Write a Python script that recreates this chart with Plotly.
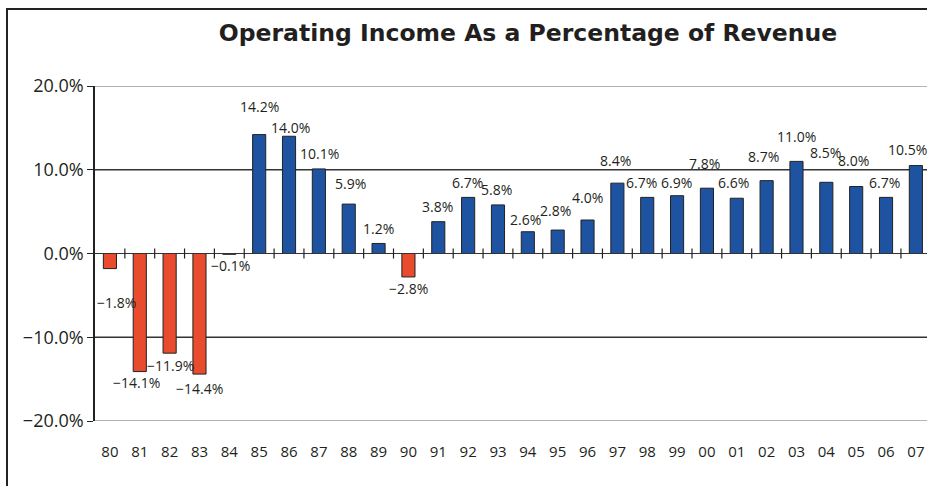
import plotly.graph_objects as go

# Fiscal years (two-digit) and operating margin in percent
years = ["80", "81", "82", "83", "84", "85", "86", "87", "88", "89",
         "90", "91", "92", "93", "94", "95", "96", "97", "98", "99",
         "00", "01", "02", "03", "04", "05", "06", "07"]
margin_pct = [-1.8, -14.1, -11.9, -14.4, -0.1, 14.2, 14.0, 10.1, 5.9, 1.2,
              -2.8, 3.8, 6.7, 5.8, 2.6, 2.8, 4.0, 8.4, 6.7, 6.9,
              7.8, 6.6, 8.7, 11.0, 8.5, 8.0, 6.7, 10.5]
y_ticks = [20, 10, 0, -10, -20]

# Pixel nudges for the value labels (x, y) relative to each bar end
label_nudge = [(7, -34), (-3, -11), (1, -12), (0, -14), (1, -11), (0, 28), (1, 9),
               (1, 15), (2, 21), (0, 15), (0, -12), (-1, 15), (-1, 15), (-1, 15),
               (-2, 12), (-2, 20), (0, 23), (-2, 23), (-6, 15), (-1, 13), (-2, 25),
               (-3, 16), (-3, 24), (0, 25), (-1, 30), (-3, 26), (-2, 15), (-8, 16)]

RED = "#E84B2D"
BLUE = "#1E53A1"
INK = "#231F20"
FONT = "Open Sans"

W, H = 927, 486
# the paper starts at the outer frame's top-left corner (8, 10)
ML, MR, MT, MB = 8, 0, 10, 0
PW, PH = W - ML - MR, H - MT - MB
# chart area inside the frame, in page pixels
AX_L, AX_R, AX_T, AX_B = 95, 927, 86, 421
x_domain = [(AX_L - ML) / PW, (AX_R - ML) / PW]
y_domain = [(H - AX_B) / PH, (H - AX_T) / PH]
CAT_PX = 29.85

def fmt(v):
    s = f"{abs(v):.1f}%"
    return ("\u2212" + s) if v < 0 else s

xs = list(range(len(years)))
colors = [RED if v < 0 else BLUE for v in margin_pct]

fig = go.Figure()
fig.add_trace(go.Bar(
    x=xs, y=margin_pct, width=0.44,
    marker=dict(color=colors, line=dict(color="#222222", width=1)),
    hoverinfo="skip",
))
# empty trace that owns the full-page frame axes
fig.add_trace(go.Scatter(x=[], y=[], xaxis="x2", yaxis="y2", mode="lines",
                         hoverinfo="skip", showlegend=False))

shapes = []
# horizontal rules: outer ones light grey, inner ones dark
for t in y_ticks:
    if t == 0:
        continue
    shapes.append(dict(type="line", xref="x", yref="y", x0=-0.5, x1=len(years) + 1,
                       y0=t, y1=t, layer="below",
                       line=dict(color="#9A9A9A" if abs(t) == 20 else "#333333", width=1.3)))
# zero line with category-boundary ticks
shapes.append(dict(type="line", xref="x", yref="y", x0=-0.5, x1=len(years) + 1,
                   y0=0, y1=0, layer="above", line=dict(color="#333333", width=1.2)))
for k in range(len(years)):
    shapes.append(dict(type="line", xref="x", yref="y", x0=k + 0.5, x1=k + 0.5,
                       y0=-0.6, y1=0.6, layer="above", line=dict(color="#222222", width=1.2)))

annotations = []
for i, v in enumerate(margin_pct):
    dx, dy = label_nudge[i]
    annotations.append(dict(x=xs[i], y=v, xref="x", yref="y", text=fmt(v),
                            showarrow=False, xanchor="center", yanchor="middle",
                            xshift=dx, yshift=dy,
                            font=dict(family=FONT, size=14, color=INK)))

frame_axis = dict(domain=[0, 1], range=[0, 1], showline=True, linecolor="#222222",
                  linewidth=2, showgrid=False, zeroline=False, ticks="",
                  showticklabels=False, fixedrange=True)

fig.update_layout(
    width=W, height=H,
    margin=dict(l=ML, r=MR, t=MT, b=MB, pad=0, autoexpand=False),
    paper_bgcolor="white", plot_bgcolor="rgba(0,0,0,0)",
    showlegend=False,
    title=dict(text="<b>Operating Income As a Percentage of Revenue</b>",
               x=528 / W, xanchor="center", y=1 - 33 / H, yanchor="middle",
               xref="container", yref="container",
               font=dict(family="DejaVu Sans", size=23.5, color=INK)),
    xaxis=dict(domain=x_domain, range=[-0.5, -0.5 + (AX_R - AX_L) / CAT_PX],
               tickvals=xs, ticktext=years, automargin=False,
               showgrid=False, zeroline=False, showline=False,
               ticks="outside", ticklen=17, tickcolor="rgba(0,0,0,0)",
               tickfont=dict(family=FONT, size=15, color=INK), fixedrange=True),
    yaxis=dict(domain=y_domain, range=[-20, 20], tickvals=y_ticks,
               ticktext=[fmt(t) for t in y_ticks], automargin=False,
               showgrid=False, zeroline=False, showline=True, linecolor="#222222",
               linewidth=1.5, ticks="outside", ticklen=6, tickcolor="#222222",
               tickwidth=1.2, tickfont=dict(family=FONT, size=18, color=INK),
               fixedrange=True),
    # frame: top edge from a top-side x axis, left edge from a left-side y axis
    xaxis2=dict(frame_axis, anchor="y2", side="top"),
    yaxis2=dict(frame_axis, anchor="x2", side="left"),
    shapes=shapes, annotations=annotations,
)

fig.write_html("out.html", config={"displayModeBar": False})
